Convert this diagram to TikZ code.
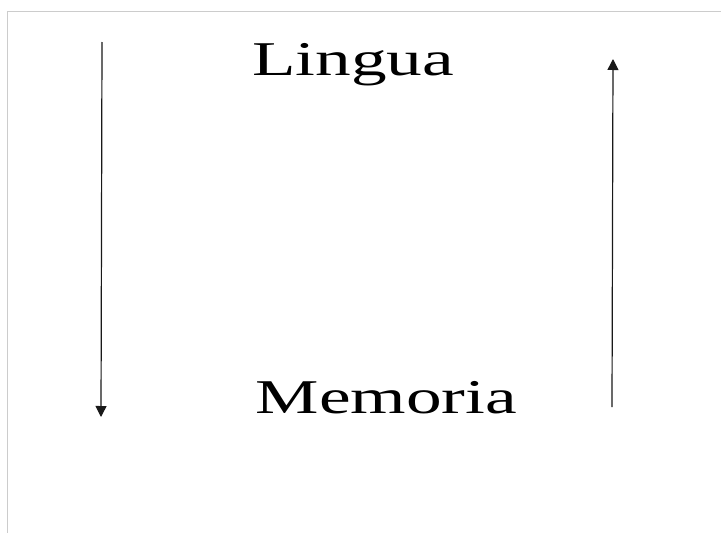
\documentclass[tikz,border=0pt]{standalone}
\usepackage{fontspec}
\setmainfont{Liberation Serif}
\usetikzlibrary{arrows.meta}
\begin{document}
\begin{tikzpicture}[x=1pt,y=-1pt,
  frameline/.style={draw=black!20,line width=1.2pt},
  bigword/.style={inner sep=0pt,anchor=base,font=\fontsize{48.5}{58}\selectfont},
  vecarrow/.style={draw=black!90,line width=1.2pt,-{Triangle[width=11pt,length=11pt]}}]
\useasboundingbox (0,0) rectangle (721,533);
\fill[white] (0,0) rectangle (721,533);
\coordinate (fa) at (7.5,533);
\coordinate (fb) at (7.5,11.5);
\coordinate (fc) at (721,11.5);
\draw[frameline] (fa) -- (fb) -- (fc);
\node[bigword] (lingua) at (353,75) {\scalebox{1.47}[1]{Lingua}};
\node[bigword] (memoria) at (386.5,413) {\scalebox{1.47}[1]{Memoria}};
\coordinate (ltop) at (102,42);
\coordinate (lbot) at (101,417);
\coordinate (rbot) at (612,407);
\coordinate (rtop) at (613,59);
\draw[vecarrow] (ltop) -- (lbot);
\draw[vecarrow] (rbot) -- (rtop);
\end{tikzpicture}
\end{document}
